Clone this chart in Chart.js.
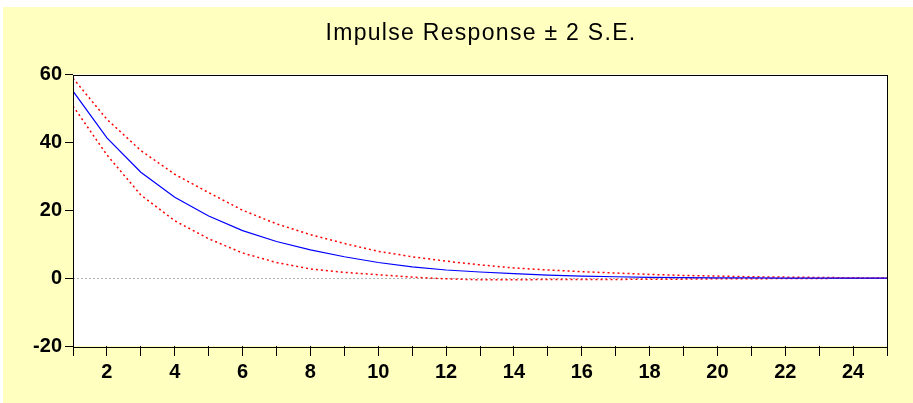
<!DOCTYPE html>
<html>
<head>
<meta charset="utf-8">
<title>Impulse Response</title>
<script src="https://cdn.jsdelivr.net/npm/chart.js@4.4.1/dist/chart.umd.min.js"></script>
<style>
  html, body { margin: 0; padding: 0; background: #fff; }
  #frame {
    position: absolute; left: 3px; top: 7px;
    width: 910px; height: 396px;
    background: #ffffc0;
  }
</style>
</head>
<body>
<div id="frame"><canvas id="irf" width="910" height="396"></canvas></div>
<script>
// ── Data ───────────────────────────────────────────────────────────────────
const TITLE   = 'Impulse Response ± 2 S.E.';
const periods = [1, 2, 3, 4, 5, 6, 7, 8, 9, 10, 11, 12, 13, 14, 15, 16, 17, 18, 19, 20, 21, 22, 23, 24, 25];
const response = [55.1, 41.3, 31.2, 23.8, 18.3, 14.0, 10.8, 8.3, 6.3, 4.6, 3.3, 2.4, 1.8, 1.3, 0.9, 0.6, 0.4, 0.25, 0.15, 0.1, 0.05, 0.02, 0.0, 0.0, 0.0];
const upper    = [58.9, 46.8, 37.6, 30.6, 25.2, 20.0, 16.0, 12.8, 10.2, 7.9, 6.3, 5.0, 3.9, 3.0, 2.4, 1.9, 1.5, 1.1, 0.8, 0.6, 0.4, 0.3, 0.2, 0.1, 0.0];
const lower    = [50.7, 36.3, 24.5, 16.9, 11.6, 7.4, 4.6, 2.7, 1.7, 1.0, 0.3, -0.2, -0.5, -0.5, -0.4, -0.4, -0.4, -0.3, -0.3, -0.2, -0.2, -0.1, -0.1, 0.0, 0.0];
const yTicks   = { min: -20, max: 60, step: 20 };

const FONT = '"Liberation Sans", Arial, sans-serif';

// white plot area + black box around it
const plotBox = {
  id: 'plotBox',
  beforeDatasetsDraw(chart) {
    const { ctx, chartArea: a } = chart;
    ctx.save();
    ctx.fillStyle = '#fff';
    ctx.fillRect(a.left, a.top, a.right - a.left, a.bottom - a.top);
    // zero line redrawn above fill
    const y0 = Math.round(chart.scales.y.getPixelForValue(0)) + 0.5;
    ctx.strokeStyle = '#b4b4b4';
    ctx.setLineDash([2, 2]);
    ctx.beginPath(); ctx.moveTo(a.left, y0); ctx.lineTo(a.right, y0); ctx.stroke();
    ctx.restore();
  },
  afterDraw(chart) {
    const { ctx, chartArea: a } = chart;
    ctx.save();
    ctx.strokeStyle = '#000';
    ctx.lineWidth = 1;
    ctx.strokeRect(Math.round(a.left) + 0.5, Math.round(a.top) + 0.5,
                   Math.round(a.right - a.left), Math.round(a.bottom - a.top));
    // title, letter-spaced like the original
    ctx.font = '23px ' + FONT;
    ctx.letterSpacing = '1.3px';
    ctx.fillStyle = '#000';
    ctx.textAlign = 'center';
    ctx.textBaseline = 'middle';
    ctx.fillText(TITLE, (a.left + a.right) / 2 + 1, 26.5);
    ctx.restore();
  },
};

const tickGrid = {
  display: true, drawOnChartArea: false, drawTicks: true,
  tickColor: '#000', tickWidth: 1,
};

new Chart(document.getElementById('irf'), {
  type: 'line',
  data: {
    labels: periods,
    datasets: [
      { label: 'Response', data: response, borderColor: '#0000ff', borderWidth: 1.2, pointRadius: 0, tension: 0 },
      { label: '+2 S.E.',  data: upper,    borderColor: '#ff0000', borderWidth: 1.5, borderDash: [2, 3], pointRadius: 0, tension: 0 },
      { label: '-2 S.E.',  data: lower,    borderColor: '#ff0000', borderWidth: 1.5, borderDash: [2, 3], pointRadius: 0, tension: 0 },
    ].map(d => ({ ...d, data: d.data.map((v, i) => ({ x: periods[i], y: v })) })),
  },
  plugins: [plotBox],
  options: {
    responsive: false, animation: false,
    layout: { padding: { left: 0, right: 26, top: 67.5, bottom: 0 } },
    plugins: { legend: { display: false }, title: { display: false }, tooltip: { enabled: false } },
    scales: {
      x: {
        type: 'linear', min: 1, max: 25,
        grid: { ...tickGrid, tickLength: 10 },
        border: { display: false },
        ticks: {
          stepSize: 1, autoSkip: false, maxRotation: 0, padding: 4,
          color: '#000', font: { family: FONT, size: 20, weight: 'bold' },
          callback: v => (v % 2 === 0 ? v : ''),
        },
        afterFit: s => { s.height = 57; },
      },
      y: {
        min: yTicks.min, max: yTicks.max,
        grid: { ...tickGrid, tickLength: 8 },
        border: { display: false },
        ticks: {
          stepSize: yTicks.step, padding: 3,
          color: '#000', font: { family: FONT, size: 20, weight: 'bold' },
        },
        afterFit: s => { s.width = 70; },
      },
    },
  },
});
</script>
</body>
</html>
